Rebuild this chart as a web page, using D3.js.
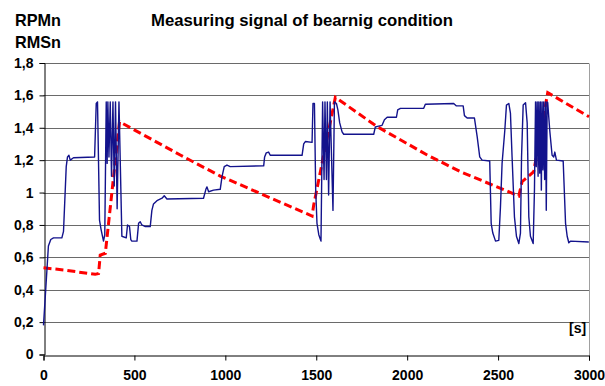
<!DOCTYPE html>
<html>
<head>
<meta charset="utf-8">
<script src="https://cdn.jsdelivr.net/npm/d3@7"></script>
<style>
  html, body { margin: 0; padding: 0; background: #fff; }
  svg { display: block; font-family: "Liberation Sans", Arial, sans-serif; }
</style>
</head>
<body>
<svg id="chart" width="605" height="386"></svg>
<script>
// Normalised rotational speed (RPMn) over time [s]
const rpmTime = [0, 27, 40, 55, 101, 110, 125, 132, 140, 147, 165, 281, 290, 297, 308, 317, 330, 337,
  345, 350, 354, 360, 367, 374, 382, 389, 396, 405, 415, 431, 455, 462, 473, 480, 486, 514, 523, 532,
  541, 560, 587, 596, 605, 624, 652, 664, 679, 880, 893, 899, 908, 935, 972, 982, 994, 1009, 1027,
  1211, 1216, 1225, 1238, 1247, 1422, 1431, 1440, 1477, 1482, 1490, 1497, 1504, 1514, 1526, 1535,
  1543, 1548, 1556, 1561, 1568, 1576, 1592, 1600, 1611, 1619, 1629, 1642, 1651, 1669, 1816, 1825,
  1843, 1862, 1875, 1890, 1941, 1948, 1963, 2091, 2100, 2256, 2271, 2308, 2315, 2330, 2370, 2385,
  2399, 2412, 2454, 2462, 2471, 2486, 2504, 2513, 2522, 2537, 2546, 2559, 2568, 2577, 2590, 2601,
  2614, 2623, 2629, 2638, 2651, 2660, 2669, 2678, 2693, 2700, 2706, 2710, 2715, 2720, 2724, 2729,
  2733, 2738, 2742, 2747, 2751, 2756, 2761, 2765, 2770, 2773, 2784, 2797, 2806, 2812, 2821, 2858,
  2871, 2880, 2889, 2898, 2999];
const rpmValue = [0.18, 0.67, 0.71, 0.72, 0.72, 0.76, 1.16, 1.22, 1.23, 1.2, 1.215, 1.22, 1.55, 1.56,
  0.83, 0.77, 0.70, 0.74, 1.56, 1.18, 1.56, 1.22, 1.56, 1.10, 1.56, 1.04, 1.56, 0.90, 1.56, 0.73,
  0.72, 0.80, 0.79, 0.71, 0.70, 0.70, 0.81, 0.82, 0.80, 0.79, 0.79, 0.89, 0.93, 0.95, 0.965, 0.98,
  0.96, 0.965, 1.02, 1.035, 1.005, 1.015, 1.02, 1.10, 1.16, 1.17, 1.16, 1.165, 1.22, 1.245, 1.25,
  1.23, 1.23, 1.30, 1.315, 1.31, 1.55, 1.55, 1.015, 0.81, 0.74, 0.70, 1.56, 1.08, 1.56, 1.08, 1.56,
  0.985, 1.56, 0.89, 1.56, 1.55, 1.51, 1.43, 1.375, 1.36, 1.36, 1.36, 1.405, 1.41, 1.415, 1.45,
  1.465, 1.465, 1.51, 1.52, 1.52, 1.545, 1.55, 1.535, 1.535, 1.475, 1.46, 1.46, 1.345, 1.22, 1.20,
  1.195, 0.81, 0.75, 0.70, 0.705, 0.91, 1.18, 1.385, 1.54, 1.55, 1.49, 1.22, 0.85, 0.73, 0.685,
  0.75, 1.22, 1.54, 1.555, 1.43, 0.85, 0.73, 0.685, 1.015, 1.56, 1.16, 1.56, 1.10, 1.56, 1.12,
  1.56, 1.015, 1.56, 1.14, 1.56, 1.08, 1.56, 0.89, 1.56, 1.555, 1.385, 1.23, 1.22, 1.25, 1.20,
  1.195, 0.81, 0.73, 0.69, 0.70, 0.695];

// Normalised vibration RMS (RMSn) over time [s]
const rmsTime = [0, 110, 284, 303, 312, 340, 418, 752, 972, 1477, 1486, 1605, 1835, 2110, 2293,
  2614, 2632, 2696, 2773, 3000];
const rmsValue = [0.535, 0.522, 0.495, 0.50, 0.614, 0.625, 1.437, 1.232, 1.102, 0.855, 0.923,
  1.588, 1.407, 1.232, 1.129, 0.979, 1.067, 1.129, 1.617, 1.468];

const xTicks = [0, 500, 1000, 1500, 2000, 2500, 3000];
const yTicks = [0, 0.2, 0.4, 0.6, 0.8, 1, 1.2, 1.4, 1.6, 1.8];

const svg = d3.select("#chart");
const plotLeft = 43.5, plotRight = 589, plotTop = 63, plotBottom = 354.5;

const x = d3.scaleLinear().domain([0, 3000]).range([plotLeft, plotRight]);
const y = d3.scaleLinear().domain([0, 1.8]).range([plotBottom, plotTop]);

const fmtY = v => (v === 0 || v === 1) ? String(v) : d3.format(".1f")(v).replace(".", ",");
const snap = v => Math.round(v) + 0.5;

// horizontal grid
svg.append("g")
  .selectAll("line")
  .data(yTicks.filter(v => v > 0))
  .join("line")
  .attr("x1", plotLeft).attr("x2", plotRight)
  .attr("y1", d => snap(y(d))).attr("y2", d => snap(y(d)))
  .attr("stroke", "#6a6a6a").attr("stroke-width", 1);

// right border of plot area
svg.append("line")
  .attr("x1", snap(plotRight)).attr("x2", snap(plotRight))
  .attr("y1", snap(y(1.8))).attr("y2", snap(y(0)))
  .attr("stroke", "#a0a0a0").attr("stroke-width", 1);

// axes
const yAxis = d3.axisLeft(y).tickValues(yTicks).tickFormat(fmtY).tickSize(5).tickPadding(6);
const xAxis = d3.axisBottom(x).tickValues(xTicks).tickFormat(d3.format("d")).tickSize(5).tickPadding(10);

const gy = svg.append("g").attr("transform", `translate(${snap(plotLeft)},0)`).call(yAxis);
const gx = svg.append("g").attr("transform", `translate(0,${snap(plotBottom)})`).call(xAxis);

[gx, gy].forEach(g => {
  g.select(".domain").attr("stroke", "#000");
  g.selectAll(".tick line").attr("stroke", "#000");
  g.selectAll(".tick text")
    .attr("fill", "#000")
    .style("font-size", "14px")
    .style("font-weight", "bold")
    .style("font-family", "'Liberation Sans', Arial, sans-serif");
});

// series
const rpm = rpmTime.map((t, i) => [t, rpmValue[i]]);
const rms = rmsTime.map((t, i) => [t, rmsValue[i]]);
const line = d3.line().x(d => x(d[0])).y(d => y(d[1]));

svg.append("path")
  .datum(rms)
  .attr("d", line)
  .attr("fill", "none")
  .attr("stroke", "#ff0000")
  .attr("stroke-width", 3)
  .attr("stroke-dasharray", "8,4");

svg.append("path")
  .datum(rpm)
  .attr("d", line)
  .attr("fill", "none")
  .attr("stroke", "#13138c")
  .attr("stroke-width", 1.4)
  .attr("stroke-linejoin", "round");

// titles
const bold = sel => sel.attr("font-weight", "bold").attr("fill", "#000");

svg.append("text").call(bold)
  .attr("x", 151).attr("y", 26)
  .attr("font-size", 17)
  .attr("textLength", 302).attr("lengthAdjust", "spacingAndGlyphs")
  .text("Measuring signal of bearnig condition");

svg.append("text").call(bold)
  .attr("x", 15).attr("y", 26)
  .attr("font-size", 17)
  .attr("textLength", 46).attr("lengthAdjust", "spacingAndGlyphs")
  .text("RPMn");

svg.append("text").call(bold)
  .attr("x", 15).attr("y", 48)
  .attr("font-size", 17)
  .attr("textLength", 46).attr("lengthAdjust", "spacingAndGlyphs")
  .text("RMSn");

svg.append("text").call(bold)
  .attr("x", 569).attr("y", 333)
  .attr("font-size", 14)
  .text("[s]");
</script>
</body>
</html>
